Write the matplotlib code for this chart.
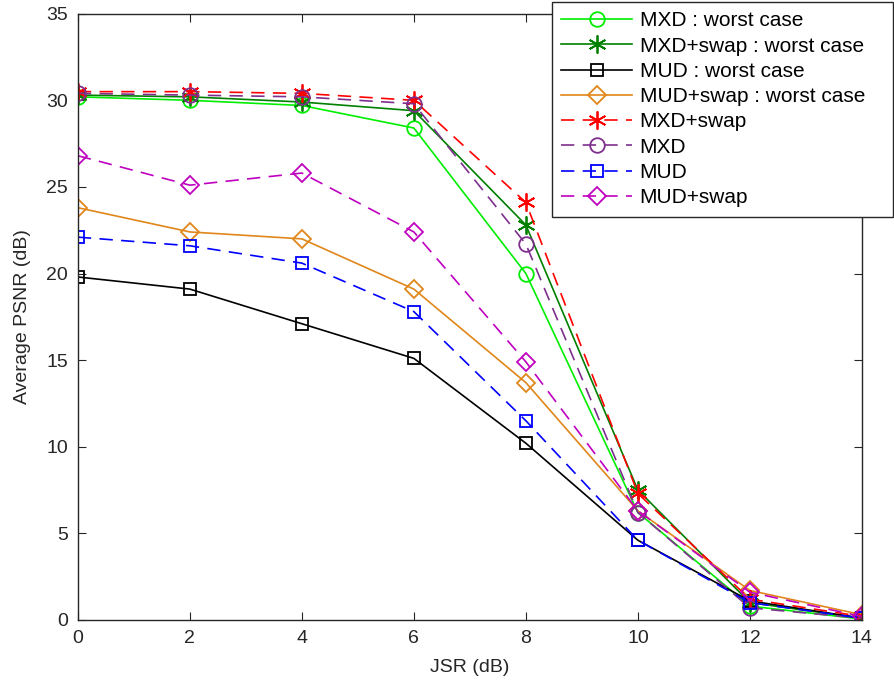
import matplotlib
matplotlib.use("Agg")
import matplotlib.pyplot as plt

plt.rcParams['font.family'] = ['Liberation Sans', 'DejaVu Sans']

jsr = [0, 2, 4, 6, 8, 10, 12, 14]

mxd_worst = [30.2, 30.0, 29.7, 28.4, 20.0, 6.2, 0.8, 0.05]
mxd_swap_worst = [30.3, 30.2, 29.9, 29.4, 22.8, 7.5, 1.0, 0.1]
mud_worst = [19.8, 19.1, 17.1, 15.1, 10.2, 4.6, 1.1, 0.1]
mud_swap_worst = [23.8, 22.4, 22.0, 19.1, 13.7, 6.3, 1.7, 0.3]
mxd_swap = [30.5, 30.5, 30.4, 30.0, 24.1, 7.3, 1.2, 0.2]
mxd = [30.4, 30.3, 30.2, 29.8, 21.7, 6.2, 0.7, 0.1]
mud = [22.1, 21.6, 20.6, 17.8, 11.5, 4.6, 1.0, 0.1]
mud_swap = [26.8, 25.1, 25.8, 22.4, 14.9, 6.3, 1.6, 0.2]

asterisk = (6, 2, 0)
dashed = (0, (8, 5))
series = [
    ("MXD : worst case", mxd_worst, '#00ee00', 'o', '-'),
    ("MXD+swap : worst case", mxd_swap_worst, '#008000', asterisk, '-'),
    ("MUD : worst case", mud_worst, 'black', 's', '-'),
    ("MUD+swap : worst case", mud_swap_worst, '#e0861a', 'D', '-'),
    ("MXD+swap", mxd_swap, '#ff0000', asterisk, dashed),
    ("MXD", mxd, '#7e2f8e', 'o', dashed),
    ("MUD", mud, '#0000ff', 's', dashed),
    ("MUD+swap", mud_swap, '#c000c0', 'D', dashed),
]
sizes = {'o': 10.5, 's': 9, 'D': 9}

fig = plt.figure(figsize=(8.95, 6.85), dpi=100)
ax = fig.add_axes([0.087, 0.095, 0.876, 0.885])

for label, vals, color, marker, ls in series:
    ms = sizes.get(marker, 13) if isinstance(marker, str) else 13
    ax.plot(jsr, vals, color=color, linestyle=ls, linewidth=1.2,
            marker=marker, markersize=ms, markerfacecolor='none',
            markeredgecolor=color, markeredgewidth=1.3, label=label)

ax.set_xlim(0, 14)
ax.set_ylim(0, 35)
ax.set_xticks(range(0, 15, 2))
ax.set_yticks(range(0, 36, 5))
ax.tick_params(direction='in', top=True, right=True, labelsize=14,
               length=6, colors='#262626', pad=7)
for sp in ax.spines.values():
    sp.set_color('#262626')
    sp.set_linewidth(1.0)
ax.set_xlabel("JSR (dB)", fontsize=14, color='#262626', labelpad=9)
ax.set_ylabel("Average PSNR (dB)", fontsize=14, color='#262626', labelpad=11)

# legend box spans roughly x 552..893 px at the top right of the figure
leg = ax.legend(loc='upper right',
                bbox_to_anchor=(552 / 895, 0.5, (893 - 552) / 895, 683 / 685 - 0.5),
                bbox_transform=fig.transFigure, mode='expand', fontsize=15,
                handlelength=3.4, labelspacing=0.3, borderpad=0.45,
                handletextpad=0.35, borderaxespad=0, fancybox=False,
                framealpha=1, edgecolor='#262626')
leg.get_frame().set_linewidth(1.0)

fig.savefig("out.png", dpi=100)
